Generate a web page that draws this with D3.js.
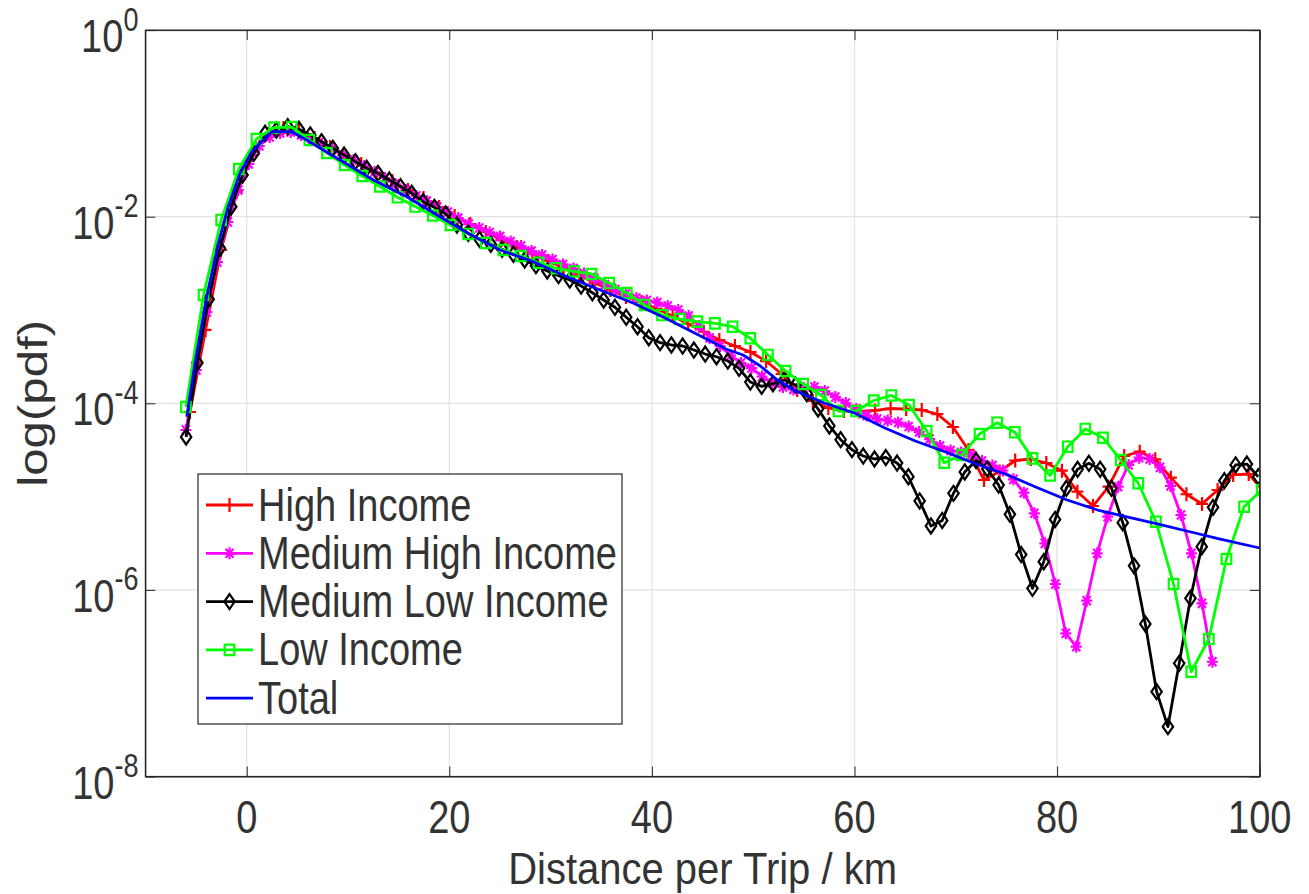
<!DOCTYPE html>
<html>
<head>
<meta charset="utf-8">
<script src="https://cdn.jsdelivr.net/npm/d3@7"></script>
<style>
  body { margin: 0; background: #fff; }
  svg text { font-family: "Liberation Sans", Arial, Helvetica, sans-serif; fill: #333333; }
</style>
</head>
<body>
<svg id="chart" width="1309" height="894"></svg>
<script>
// log10(pdf), one value per kernel-density grid point
const highStart = -5.6, highStep = 1.537;
const highLog = [-4.093,-3.214,-2.357,-1.735,-1.339,-1.114,-1.049,-1.071,-1.157,-1.253,
  -1.350,-1.435,-1.532,-1.617,-1.714,-1.800,-1.896,-1.993,-2.079,-2.164,
  -2.250,-2.325,-2.400,-2.475,-2.550,-2.625,-2.711,-2.786,-2.861,-2.914,
  -2.989,-3.064,-3.150,-3.233,-3.322,-3.386,-3.450,-3.547,-3.686,-3.858,
  -3.975,-4.050,-4.083,-4.088,-4.077,-4.056,-4.061,-4.072,-4.115,-4.254,
  -4.500,-4.822,-4.731,-4.613,-4.597,-4.640,-4.722,-4.947,-5.101,-4.894,
  -4.565,-4.519,-4.600,-4.797,-4.975,-5.079,-4.929,-4.768,-4.758,-4.951];

const medHighStart = -6.0, medHighStep = 1.034;
const medHighLog = [-4.286,-3.643,-3.022,-2.486,-2.057,-1.714,-1.435,-1.242,-1.146,-1.103,
  -1.092,-1.124,-1.167,-1.221,-1.274,-1.339,-1.392,-1.456,-1.521,-1.585,
  -1.649,-1.714,-1.778,-1.832,-1.896,-1.950,-2.014,-2.078,-2.121,-2.169,
  -2.212,-2.266,-2.314,-2.368,-2.411,-2.459,-2.512,-2.555,-2.609,-2.662,
  -2.727,-2.780,-2.829,-2.871,-2.898,-2.920,-2.957,-3.000,-3.064,-3.172,
  -3.300,-3.386,-3.488,-3.568,-3.622,-3.713,-3.782,-3.825,-3.852,-3.836,
  -3.825,-3.868,-3.932,-3.997,-4.061,-4.131,-4.168,-4.184,-4.206,-4.249,
  -4.308,-4.383,-4.458,-4.506,-4.527,-4.557,-4.618,-4.667,-4.720,-4.815,
  -4.958,-5.179,-5.501,-5.937,-6.465,-6.609,-6.116,-5.608,-5.215,-4.894,
  -4.661,-4.583,-4.597,-4.686,-4.886,-5.197,-5.608,-6.144,-6.770];

const medLowStart = -5.98, medLowStep = 1.114;
const medLowLog = [-4.361,-3.565,-2.885,-2.339,-1.893,-1.553,-1.320,-1.106,-1.071,-1.035,
  -1.063,-1.124,-1.196,-1.267,-1.339,-1.410,-1.481,-1.535,-1.607,-1.678,
  -1.749,-1.839,-1.900,-1.971,-2.089,-2.178,-2.242,-2.296,-2.349,-2.403,
  -2.464,-2.525,-2.582,-2.632,-2.679,-2.743,-2.815,-2.893,-2.971,-3.078,
  -3.179,-3.297,-3.350,-3.375,-3.386,-3.429,-3.472,-3.501,-3.547,-3.625,
  -3.772,-3.818,-3.790,-3.750,-3.804,-3.897,-4.061,-4.243,-4.390,-4.497,
  -4.565,-4.597,-4.581,-4.640,-4.787,-5.047,-5.315,-5.256,-4.965,-4.736,
  -4.613,-4.704,-4.876,-5.190,-5.621,-5.983,-5.698,-5.245,-4.911,-4.707,
  -4.643,-4.707,-4.911,-5.280,-5.742,-6.365,-7.091,-7.466,-6.787,-6.090,
  -5.537,-5.115,-4.830,-4.661,-4.651,-4.787];

const lowStart = -6.0, lowStep = 1.741;
const lowLog = [-4.040,-2.839,-2.035,-1.489,-1.167,-1.044,-1.039,-1.178,-1.317,-1.446,
  -1.564,-1.676,-1.792,-1.891,-1.987,-2.089,-2.185,-2.282,-2.357,-2.421,
  -2.493,-2.553,-2.587,-2.614,-2.711,-2.818,-2.946,-3.054,-3.097,-3.125,
  -3.143,-3.179,-3.303,-3.482,-3.654,-3.793,-3.911,-4.083,-4.083,-3.970,
  -3.916,-4.018,-4.297,-4.637,-4.554,-4.329,-4.208,-4.311,-4.590,-4.774,
  -4.465,-4.275,-4.369,-4.608,-4.857,-5.269,-5.937,-6.877,-6.526,-5.669,
  -5.108,-4.929];

const totalX = [-5.92,-5.1,-3.95,-2.8,-1.82,-0.66,0.49,2.47,4.44,5.92,
  9.21,12.5,15.79,18.96,21.89,25.0,28.3,31.6,34.9,38.2,
  41.5,44.8,47.3,49.0,50.7,52.4,54.0,57.0,60.0,63.0,
  66,69,72,75,78,81,84,87,90,93,96,100];
const totalLog = [-4.144,-3.568,-2.857,-2.285,-1.893,-1.535,-1.303,-1.089,-1.089,-1.178,
  -1.392,-1.607,-1.786,-1.993,-2.180,-2.357,-2.482,-2.643,-2.786,-2.928,
  -3.096,-3.279,-3.418,-3.482,-3.600,-3.750,-3.857,-3.997,-4.104,-4.265,
  -4.404,-4.522,-4.651,-4.763,-4.902,-5.036,-5.144,-5.219,-5.294,-5.374,
  -5.454,-5.551];

const xTicks = [0, 20, 40, 60, 80, 100];
const yExponents = [0, -2, -4, -6, -8];
const seriesNames = ["High Income", "Medium High Income", "Medium Low Income", "Low Income", "Total"];
const seriesColors = ["#ff0000", "#ff00ff", "#000000", "#00ff00", "#0000ff"];

function gridSeries(start, step, logs) {
    return logs.map(function(v, i) { return {x: start + step * i, y: Math.pow(10, v)}; });
}

const series = [
    {name: seriesNames[0], color: seriesColors[0], marker: "plus", pts: gridSeries(highStart, highStep, highLog)},
    {name: seriesNames[1], color: seriesColors[1], marker: "star", pts: gridSeries(medHighStart, medHighStep, medHighLog)},
    {name: seriesNames[2], color: seriesColors[2], marker: "diamond", pts: gridSeries(medLowStart, medLowStep, medLowLog)},
    {name: seriesNames[3], color: seriesColors[3], marker: "square", pts: gridSeries(lowStart, lowStep, lowLog)},
    {name: seriesNames[4], color: seriesColors[4], marker: null, pts: totalX.map(function(x, i) { return {x: x, y: Math.pow(10, totalLog[i])}; })}
];

const svg = d3.select("#chart");
const plotLeft = 145.4, plotRight = 1259.7, plotTop = 30.1, plotBottom = 776.5;
const stretch = 1.2;   // the picture's text is a little taller than it is wide

const x = d3.scaleLinear().domain([-10, 100]).range([plotLeft, plotRight]);
const y = d3.scaleLog().domain([1e-8, 1]).range([plotBottom, plotTop]);

// grid
svg.append("g").selectAll("line")
    .data(xTicks.slice(0, -1))
    .enter().append("line")
    .attr("x1", d => x(d)).attr("x2", d => x(d))
    .attr("y1", plotTop).attr("y2", plotBottom)
    .attr("stroke", "#e3e3e3").attr("stroke-width", 1.2);
svg.append("g").selectAll("line")
    .data(yExponents.slice(1, -1))
    .enter().append("line")
    .attr("x1", plotLeft).attr("x2", plotRight)
    .attr("y1", d => y(Math.pow(10, d))).attr("y2", d => y(Math.pow(10, d)))
    .attr("stroke", "#e3e3e3").attr("stroke-width", 1.2);

svg.append("clipPath").attr("id", "plotclip")
    .append("rect").attr("x", plotLeft).attr("y", plotTop)
    .attr("width", plotRight - plotLeft).attr("height", plotBottom - plotTop);

const line = d3.line().x(d => x(d.x)).y(d => y(d.y));

function markerPath(type) {
    if (type == "plus") return "M-6,0H6M0,-7V7";
    if (type == "star") return "M-5.5,0H5.5M0,-6V6M-4,-4.6L4,4.6M-4,4.6L4,-4.6";
    if (type == "diamond") return "M0,-7.5L5.2,0L0,7.5L-5.2,0Z";
    if (type == "square") return "M-4.8,-5.2H4.8V5.2H-4.8Z";
    return "";
}

const plot = svg.append("g").attr("clip-path", "url(#plotclip)");
series.forEach(function(s) {
    const g = plot.append("g");
    g.append("path")
        .attr("d", line(s.pts))
        .attr("fill", "none")
        .attr("stroke", s.color)
        .attr("stroke-width", 2.8)
        .attr("stroke-linejoin", "round");
    if (s.marker) {
        g.selectAll("path.m")
            .data(s.pts)
            .enter().append("path")
            .attr("class", "m")
            .attr("transform", d => "translate(" + x(d.x) + "," + y(d.y) + ")")
            .attr("d", markerPath(s.marker))
            .attr("fill", "none")
            .attr("stroke", s.color)
            .attr("stroke-width", 2.2);
    }
});

// axes box with inward ticks, labels drawn separately so they can be stretched
const axisColor = "#262626";
const yTickVals = yExponents.map(e => Math.pow(10, e));
svg.append("g").attr("transform", "translate(0," + plotBottom + ")")
    .call(d3.axisBottom(x).tickValues(xTicks).tickSizeInner(-10).tickSizeOuter(0).tickFormat(""));
svg.append("g").attr("transform", "translate(0," + plotTop + ")")
    .call(d3.axisTop(x).tickValues(xTicks).tickSizeInner(-10).tickSizeOuter(0).tickFormat(""));
svg.append("g").attr("transform", "translate(" + plotLeft + ",0)")
    .call(d3.axisLeft(y).tickValues(yTickVals).tickSizeInner(-10).tickSizeOuter(0).tickFormat(""));
svg.append("g").attr("transform", "translate(" + plotRight + ",0)")
    .call(d3.axisRight(y).tickValues(yTickVals).tickSizeInner(-10).tickSizeOuter(0).tickFormat(""));
svg.selectAll(".domain").attr("stroke", axisColor);
svg.selectAll(".tick line").attr("stroke", axisColor);
svg.append("rect").attr("x", plotLeft).attr("y", plotTop)
    .attr("width", plotRight - plotLeft).attr("height", plotBottom - plotTop)
    .attr("fill", "none").attr("stroke", axisColor).attr("stroke-width", 1.2);

svg.append("g").selectAll("text")
    .data(xTicks)
    .enter().append("text")
    .attr("transform", d => "translate(" + x(d) + ",833) scale(1," + stretch + ")")
    .attr("text-anchor", "middle")
    .style("font-size", "38px")
    .text(d => d);

const yLabels = svg.append("g").selectAll("text")
    .data(yExponents)
    .enter().append("text")
    .attr("transform", d => "translate(" + (plotLeft - 7) + "," + (y(Math.pow(10, d)) + 22) + ") scale(1," + stretch + ")")
    .attr("text-anchor", "end")
    .style("font-size", "38px");
yLabels.append("tspan").text("10");
yLabels.append("tspan").attr("dy", -18).style("font-size", "27px").text(d => d);

// axis labels
svg.append("text")
    .attr("transform", "translate(" + ((plotLeft + plotRight) / 2) + ",884) scale(1,1.1)")
    .attr("text-anchor", "middle")
    .style("font-size", "40px")
    .text("Distance per Trip / km");
svg.append("text")
    .attr("transform", "translate(47," + ((plotTop + plotBottom) / 2) + ") scale(1," + stretch + ") rotate(-90)")
    .attr("text-anchor", "middle")
    .style("font-size", "41px")
    .text("log(pdf)");

// legend
const legend = svg.append("g").attr("transform", "translate(198,474)");
legend.append("rect").attr("width", 424).attr("height", 250)
    .attr("fill", "#fff").attr("stroke", axisColor).attr("stroke-width", 1.2);
const rows = legend.selectAll("g.row").data(series).enter().append("g")
    .attr("class", "row")
    .attr("transform", (d, i) => "translate(0," + (31 + i * 48.3) + ")");
rows.append("line").attr("x1", 8).attr("x2", 55).attr("y1", 0).attr("y2", 0)
    .attr("stroke", d => d.color).attr("stroke-width", 2.8);
rows.filter(d => d.marker).append("path")
    .attr("transform", "translate(31.5,0)")
    .attr("d", d => markerPath(d.marker))
    .attr("fill", "none").attr("stroke", d => d.color).attr("stroke-width", 2.2);
rows.append("text")
    .attr("transform", "translate(60,15.5) scale(1," + stretch + ")")
    .style("font-size", "38px")
    .text(d => d.name);
</script>
</body>
</html>
